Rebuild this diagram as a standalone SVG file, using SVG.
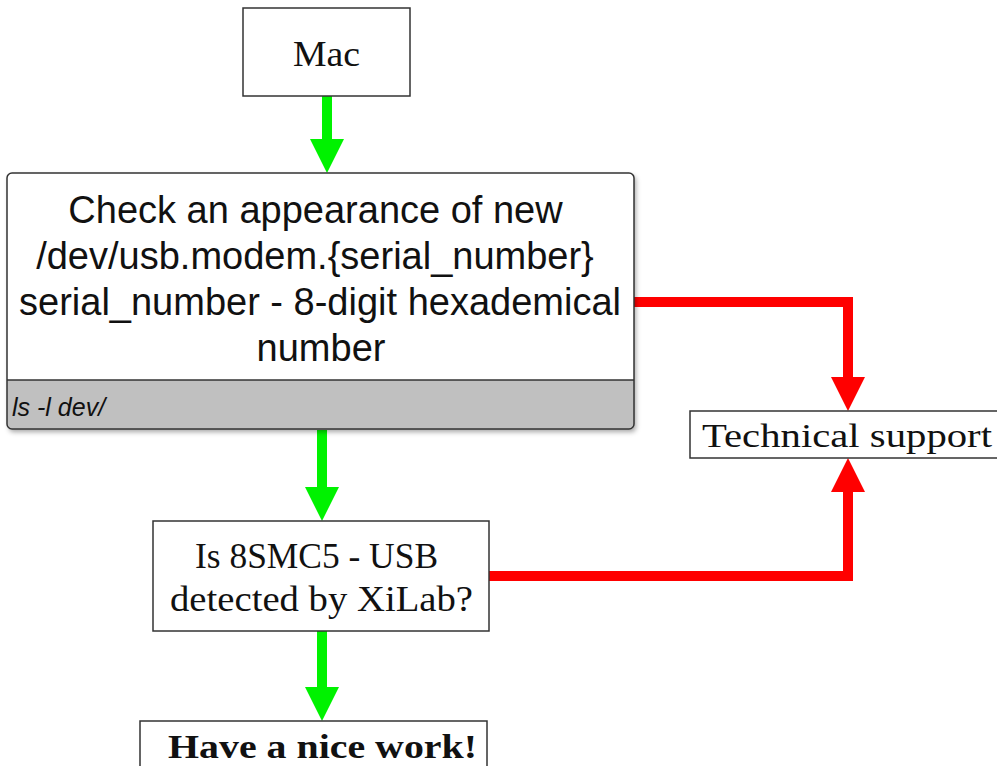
<svg xmlns="http://www.w3.org/2000/svg" width="997" height="766" viewBox="0 0 997 766">
  <style>
    .box { fill: #ffffff; stroke: #333333; stroke-width: 1.5; }
    .serif { font-family: "Liberation Serif", "Times New Roman", serif; fill: #111111; }
    .sans { font-family: "Liberation Sans", Arial, sans-serif; fill: #111111; }
    .main { font-size: 38px; text-anchor: middle; }
    .green { fill: none; stroke: #00f200; stroke-width: 10; }
    .red { fill: none; stroke: #ff0000; stroke-width: 10; }
  </style>
  <defs>
    <marker id="headG" markerUnits="userSpaceOnUse" markerWidth="34" markerHeight="34" refX="14" refY="17" orient="auto">
      <path d="M0,0 L34,17 L0,34 Z" fill="#00f200"/>
    </marker>
    <marker id="headR" markerUnits="userSpaceOnUse" markerWidth="34" markerHeight="34" refX="14" refY="17" orient="auto">
      <path d="M0,0 L34,17 L0,34 Z" fill="#ff0000"/>
    </marker>
    <filter id="shadow" x="-5%" y="-5%" width="110%" height="115%">
      <feDropShadow dx="2" dy="3" stdDeviation="2.5" flood-color="#000000" flood-opacity="0.35"/>
    </filter>
  </defs>

  <g id="connectors">
    <path class="green" d="M327,96 L327,153" marker-end="url(#headG)"/>
    <path class="green" d="M322,430 L322,501" marker-end="url(#headG)"/>
    <path class="green" d="M322,631 L322,701" marker-end="url(#headG)"/>
    <path class="red" d="M634,302 L848,302 L848,391" marker-end="url(#headR)"/>
    <path class="red" d="M489,576 L848,576 L848,478" marker-end="url(#headR)"/>
  </g>

  <g id="mac">
    <rect class="box" x="243" y="8" width="167" height="88"/>
    <text class="serif" x="326.5" y="66" font-size="36" text-anchor="middle" textLength="67" lengthAdjust="spacingAndGlyphs">Mac</text>
  </g>

  <g id="check">
    <g filter="url(#shadow)">
      <path d="M12,173 H629 Q634,173 634,178 V380 H7 V178 Q7,173 12,173 Z" fill="#ffffff"/>
      <path d="M7,380 H634 V424 Q634,429 629,429 H12 Q7,429 7,424 Z" fill="#c0c0c0"/>
    </g>
    <rect x="7" y="173" width="627" height="256" rx="5" ry="5" fill="none" stroke="#333333" stroke-width="1.5"/>
    <line x1="7" y1="380" x2="634" y2="380" stroke="#333333" stroke-width="1.5"/>
    <text class="sans main" x="315.5" y="223">Check an appearance of new</text>
    <text class="sans main" x="315" y="269">/dev/usb.modem.{serial_number}</text>
    <text class="sans main" x="320" y="315">serial_number - 8-digit hexademical</text>
    <text class="sans main" x="321" y="361">number</text>
    <text class="sans" x="12" y="416" font-size="25" font-style="italic">ls -l dev/</text>
  </g>

  <g id="detected">
    <rect class="box" x="153" y="521" width="336" height="110"/>
    <text class="serif" x="316.5" y="568" font-size="36" text-anchor="middle" textLength="243" lengthAdjust="spacingAndGlyphs">Is 8SMC5 - USB</text>
    <text class="serif" x="321.5" y="611" font-size="36" text-anchor="middle" textLength="303" lengthAdjust="spacingAndGlyphs">detected by XiLab?</text>
  </g>

  <g id="support">
    <rect class="box" x="690" y="411" width="312" height="47"/>
    <text class="serif" x="702" y="447" font-size="34" textLength="290" lengthAdjust="spacingAndGlyphs">Technical support</text>
  </g>

  <g id="nice">
    <rect class="box" x="140" y="721" width="347" height="60"/>
    <text class="serif" x="168" y="758" font-size="34" font-weight="bold" textLength="309" lengthAdjust="spacingAndGlyphs">Have a nice work!</text>
  </g>
</svg>
